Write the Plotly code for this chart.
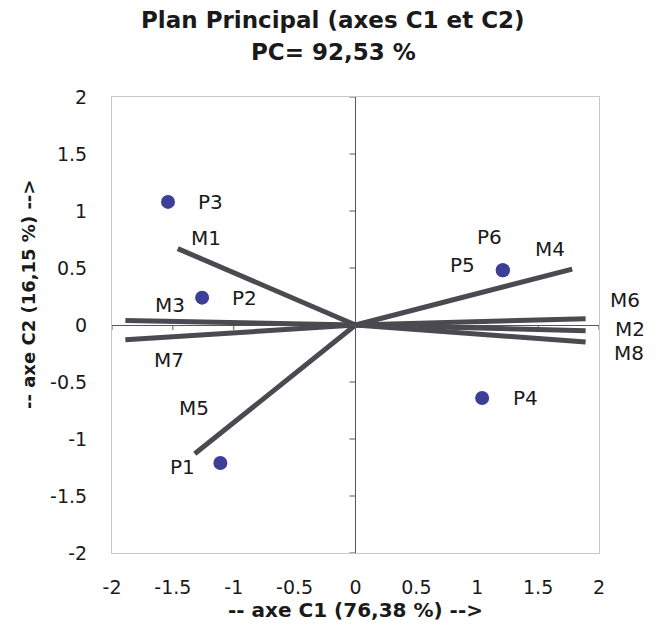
import plotly.graph_objects as go

# ---- data ----
point_names = ["P1", "P2", "P3", "P4", "P5", "P6"]
point_c1 = [-1.11, -1.26, -1.54, 1.04, 1.21, 1.21]
point_c2 = [-1.21, 0.24, 1.08, -0.64, 0.48, 0.48]

var_names = ["M1", "M2", "M3", "M4", "M5", "M6", "M7", "M8"]
var_c1 = [-1.46, 1.89, -1.89, 1.78, -1.32, 1.89, -1.89, 1.89]
var_c2 = [0.67, -0.05, 0.04, 0.49, -1.13, 0.055, -0.13, -0.15]

tick_vals = [-2, -1.5, -1, -0.5, 0, 0.5, 1, 1.5, 2]
tick_text = ["-2", "-1.5", "-1", "-0.5", "0", "0.5", "1", "1.5", "2"]

# label pixel offsets (dx right, dy up)
point_label_shift = {"P1": (-38, -4), "P2": (42, 0), "P3": (42, 0),
                     "P4": (43, 0), "P5": (-40, 5), "P6": (-13, 33)}
var_label_shift = {"M1": (28, 11), "M2": (44, 2), "M3": (45, 15), "M4": (-22, 20),
                   "M5": (-1, 46), "M6": (39, 19), "M7": (44, -20), "M8": (43, -11)}

LINE_COL = "#4a4a50"
PT_COL = "#3b3f98"
FONT = "DejaVu Sans"
TXT = "#1a1a1a"

# plot-area geometry (pixels)
L, R, T, B = 112, 65, 97, 78
W, H = 664, 631
PW, PH = W - L - R, H - T - B


def px_to_paper_x(px):
    return (px - L) / PW


def px_to_paper_y(py):
    return (H - B - py) / PH


fig = go.Figure()

for name, x, y in zip(var_names, var_c1, var_c2):
    fig.add_trace(go.Scatter(x=[0, x], y=[0, y], mode="lines",
                             line=dict(color=LINE_COL, width=5),
                             hoverinfo="skip", showlegend=False))

fig.add_trace(go.Scatter(x=point_c1, y=point_c2, mode="markers",
                         marker=dict(color=PT_COL, size=14, line=dict(width=0)),
                         text=point_names, showlegend=False))

annotations = []
for name, x, y in zip(point_names, point_c1, point_c2):
    dx, dy = point_label_shift[name]
    annotations.append(dict(x=x, y=y, xref="x", yref="y", text=name, showarrow=False,
                            xshift=dx, yshift=dy,
                            font=dict(family=FONT, size=20, color=TXT)))
for name, x, y in zip(var_names, var_c1, var_c2):
    dx, dy = var_label_shift[name]
    annotations.append(dict(x=x, y=y, xref="x", yref="y", text=name, showarrow=False,
                            xshift=dx, yshift=dy,
                            font=dict(family=FONT, size=20, color=TXT)))

# title lines
annotations.append(dict(x=px_to_paper_x(333), y=px_to_paper_y(20), xref="paper", yref="paper",
                        text="Plan Principal (axes C1 et C2)", showarrow=False,
                        xanchor="center", yanchor="middle",
                        font=dict(family=FONT, size=23, color=TXT, weight="bold")))
annotations.append(dict(x=px_to_paper_x(333), y=px_to_paper_y(52), xref="paper", yref="paper",
                        text="PC= 92,53 %", showarrow=False, xanchor="center", yanchor="middle",
                        font=dict(family=FONT, size=23, color=TXT, weight="bold")))
# y-axis title
annotations.append(dict(x=px_to_paper_x(28), y=px_to_paper_y(295), xref="paper", yref="paper",
                        text="-- axe C2 (16,15 %) -->", showarrow=False, textangle=-90,
                        xanchor="center", yanchor="middle",
                        font=dict(family=FONT, size=18, color=TXT, weight="bold")))

# tick marks on the zero axes
shapes = []
for t in tick_vals:
    shapes.append(dict(type="line", xref="x", yref="y", ysizemode="pixel", yanchor=0,
                       x0=t, x1=t, y0=0, y1=-5, line=dict(color="#555555", width=1)))
    shapes.append(dict(type="line", xref="x", yref="y", xsizemode="pixel", xanchor=0,
                       y0=t, y1=t, x0=0, x1=-6, line=dict(color="#555555", width=1)))

axis_common = dict(range=[-2, 2], tickvals=tick_vals, ticktext=tick_text,
                   showgrid=False, zeroline=True, zerolinecolor="#555555", zerolinewidth=1,
                   showline=True, linecolor="#c8c8c8", linewidth=1, mirror=True,
                   ticks="outside", tickcolor="rgba(0,0,0,0)",
                   tickfont=dict(family=FONT, size=19, color=TXT))

fig.update_layout(
    width=W, height=H,
    margin=dict(l=L, r=R, t=T, b=B),
    paper_bgcolor="white", plot_bgcolor="white",
    xaxis=dict(**axis_common, ticklen=17,
               title=dict(text="-- axe C1 (76,38 %) -->", standoff=6,
                          font=dict(family=FONT, size=20, color=TXT, weight="bold"))),
    yaxis=dict(**axis_common, ticklen=20),
    annotations=annotations,
    shapes=shapes,
)

fig.write_html("out.html")
